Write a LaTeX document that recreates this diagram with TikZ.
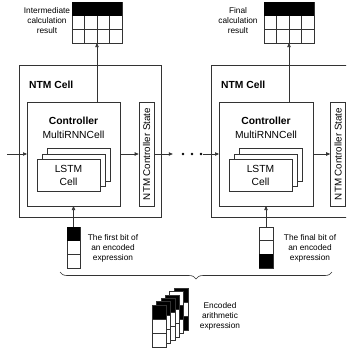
\documentclass[tikz,border=0pt]{standalone}
\usepackage{fontspec}
\setmainfont{Liberation Sans}
\usetikzlibrary{arrows.meta,decorations.pathreplacing,calc}
\begin{document}
\begin{tikzpicture}[x=1pt,y=-1pt,
  box/.style={draw=black!80, line width=0.6pt, fill=white, inner sep=0pt, outer sep=0pt, anchor=north west},
  arr/.style={draw=black!80, line width=0.6pt, -{Triangle[length=4pt,width=3.4pt]}},
  small/.style={font=\fontsize{8.3}{10}\selectfont, align=center, inner sep=0pt},
  main/.style={font=\fontsize{10.3}{13}\selectfont, inner sep=0pt, align=center},
  mainb/.style={font=\fontsize{10.3}{13}\selectfont\bfseries, inner sep=0pt},
  stbox/.style={draw=black!80, line width=0.6pt, fill=white, rotate=90, minimum width=104pt, minimum height=15pt, inner sep=0pt, font=\fontsize{9.8}{12}\selectfont},
  gridl/.style={draw=black!80, line width=0.6pt}
]
\useasboundingbox (0,0) rectangle (346,351);
\clip (0,0) rectangle (346,351);

% ===== left cell =====
\node[box, minimum width=142pt, minimum height=152pt] (ntmL) at (19,65) {};
\node[mainb, anchor=west] (ntmLt) at (29,85) {NTM Cell};
\node[box, minimum width=93pt, minimum height=104pt] (ctrlL) at (27,102) {};
\node[mainb] (ctrlLt) at (73.5,121) {Controller};
\node[main] (mrL) at (73.5,135) {MultiRNNCell};
\node[box, minimum width=63pt, minimum height=33pt] (l3L) at (47,148) {};
\node[box, minimum width=63pt, minimum height=32pt] (l2L) at (42,154) {};
\node[box, main, minimum width=63pt, minimum height=32pt] (l1L) at (37,159) {LSTM\\Cell};
\node[stbox] (stL) at (146.5,154) {NTM Controller State};

% table left
\node[box, minimum width=50pt, minimum height=41pt] (tabL) at (72,2) {};
\fill[black] (72,2) rectangle (122,15.7);
\draw[gridl] (72,29.3) -- (122,29.3);
\foreach \x in {84.5,97,109.5} \draw[gridl] (\x,15.7) -- (\x,43);
\node[small] (resLt) at (47,21) {Intermediate\\calculation\\result};
\draw[arr] (ctrlL.north -| tabL.south) -- (tabL.south);

% input bit left
\node[box, minimum width=13pt, minimum height=41pt] (bitL) at (67,227) {};
\fill[black] (67,227) rectangle (80,240.7);
\draw[gridl] (67,254.3) -- (80,254.3);
\draw[arr] (bitL.north) -- (ctrlL.south);
\node[small] (bitLt) at (113,248) {The first bit of\\an encoded\\expression};

% ===== right cell =====
\node[box, minimum width=150pt, minimum height=152pt] (ntmR) at (211,65) {};
\node[mainb, anchor=west] (ntmRt) at (221,85) {NTM Cell};
\node[box, minimum width=94pt, minimum height=104pt] (ctrlR) at (219,102) {};
\node[mainb] (ctrlRt) at (266,121) {Controller};
\node[main] (mrR) at (266,135) {MultiRNNCell};
\node[box, minimum width=63pt, minimum height=33pt] (l3R) at (239,148) {};
\node[box, minimum width=63pt, minimum height=32pt] (l2R) at (234,154) {};
\node[box, main, minimum width=63pt, minimum height=32pt] (l1R) at (229,159) {LSTM\\Cell};
\node[stbox] (stR) at (338,154) {NTM Controller State};

% table right
\node[box, minimum width=50pt, minimum height=41pt] (tabR) at (264,2) {};
\fill[black] (264,2) rectangle (314,15.7);
\draw[gridl] (264,29.3) -- (314,29.3);
\foreach \x in {276.5,289,301.5} \draw[gridl] (\x,15.7) -- (\x,43);
\node[small] (resRt) at (238,21) {Final\\calculation\\result};
\draw[arr] (ctrlR.north -| tabR.south) -- (tabR.south);

% input bit right
\node[box, minimum width=14pt, minimum height=41pt] (bitR) at (259,227) {};
\fill[black] (259,254.3) rectangle (273,268);
\draw[gridl] (259,240.7) -- (273,240.7);
\draw[arr] (bitR.north) -- (ctrlR.south);
\node[small] (bitRt) at (310,248) {The final bit of\\an encoded\\expression};

% ===== horizontal flow =====
\coordinate (inL) at (7,154);
\draw[arr] (inL) -- (ctrlL.west);
\draw[arr] (ctrlL.east) -- (stL.north);
\node[minimum width=22pt, minimum height=4pt, inner sep=0pt] (dots) at (192,154) {};
\foreach \x in {183,192,201} \fill[black] (\x,154) circle (1.3pt);
\draw[arr, shorten >=8pt] (stL.south) -- (dots.west);
\draw[arr] (dots.east) -- (ctrlR.west);
\draw[arr] (ctrlR.east) -- (stR.north);

% ===== brace =====
\draw[draw=black!80, line width=0.6pt, decorate, decoration={brace, amplitude=7pt, mirror}] (60,272) -- (332,272);

% ===== stack of encoded columns =====
\foreach \i/\a/\b/\c in {5/1/0/1,4/0/1/0,3/1/0/0,2/1/0/0,1/1/0/0,0/1/0/0} {
  \pgfmathsetmacro{\xx}{152+4.4*\i}
  \pgfmathsetmacro{\yy}{305-3.4*\i}
  \fill[white] (\xx,\yy) rectangle ++(14,42);
  \ifnum\a=1 \fill[black] (\xx,\yy) rectangle ++(14,14); \fi
  \ifnum\b=1 \fill[black] (\xx,\yy+14) rectangle ++(14,14); \fi
  \ifnum\c=1 \fill[black] (\xx,\yy+28) rectangle ++(14,14); \fi
  \draw[gridl] (\xx,\yy) rectangle ++(14,42);
  \draw[gridl] (\xx,\yy+14) -- ++(14,0);
  \draw[gridl] (\xx,\yy+28) -- ++(14,0);
}
\node[small] (encT) at (220,316) {Encoded\\arithmetic\\expression};
\end{tikzpicture}
\end{document}
